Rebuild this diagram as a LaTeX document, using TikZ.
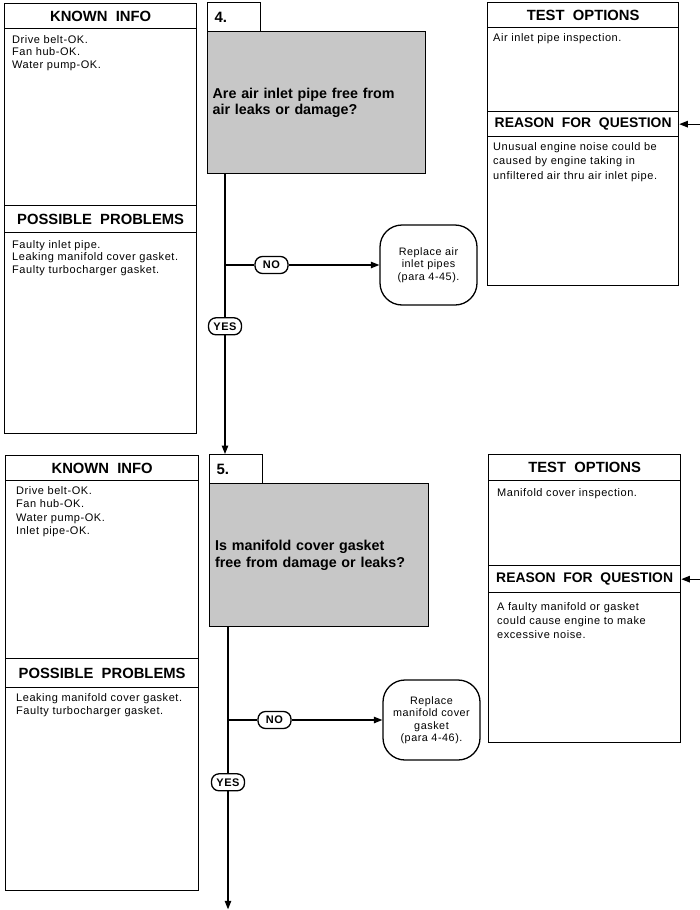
\documentclass[tikz,border=0pt]{standalone}
\usepackage{fontspec}
\setmainfont{Liberation Sans}
\newfontfamily\spacedsans{Liberation Sans}[LetterSpace=5]
\usetikzlibrary{positioning,arrows.meta,calc}

\begin{document}
\begin{tikzpicture}[
  x=1pt, y=1pt,
  panel/.style={draw, line width=1.3pt, anchor=north west, inner sep=0},
  head/.style={panel, minimum height=25pt,
               font=\fontsize{14.8}{16}\selectfont\bfseries},
  % the long heading has to keep clear of both side rules
  longhead/.style={head, font=\fontsize{13.9}{16}\selectfont\bfseries},
  body/.style={anchor=north west, align=left, inner sep=0,
               font=\spacedsans\fontsize{11}{12.5}\selectfont},
  % the small numbered tab that sits on top of each question
  tabbox/.style={panel, minimum width=53pt, minimum height=29pt,
                 inner xsep=7pt, text width=39pt, align=left,
                 font=\fontsize{15}{16}\selectfont\bfseries},
  query/.style={panel, fill=black!22, minimum width=218pt,
                minimum height=142pt, inner xsep=5pt, text width=208pt,
                align=left, font=\fontsize{14.3}{16.5}\selectfont\bfseries},
  answer/.style={draw, line width=1.3pt, fill=white, rounded corners=7.5pt,
                 minimum width=33pt, minimum height=17pt, inner sep=1pt,
                 font=\spacedsans\fontsize{11}{11}\selectfont\bfseries},
  remedy/.style={draw, line width=1.3pt, rounded corners=22pt,
                 minimum width=97pt, minimum height=80pt, inner sep=2pt,
                 align=center, font=\spacedsans\fontsize{10.8}{12.5}\selectfont},
  link/.style={line width=1.1pt},
  flow/.style={link, -{Triangle[length=8.5pt, width=6.5pt]}}
]
\useasboundingbox (0,0) rectangle (699,-910);

% ══ step 4 ═════════════════════════════════════════════════════════════════
% left column
\node[panel, minimum width=192pt, minimum height=430pt] (left4) at (4,-3) {};
\node[head, minimum width=192pt] (known4) at (4,-3) {KNOWN\ \ INFO};
\node[head, minimum width=192pt, minimum height=27pt] (prob4) at (4,-205)
  {POSSIBLE\ \ PROBLEMS};
\node[body] (knowntxt4) at (12,-35)
  {Drive belt-OK.\\Fan hub-OK.\\Water pump-OK.};
\node[body] (probtxt4) at (12,-240)
  {Faulty inlet pipe.\\Leaking manifold cover gasket.\\Faulty turbocharger gasket.};

% right column
\node[panel, minimum width=191pt, minimum height=283pt] (right4) at (487,-2) {};
\node[head, minimum width=191pt] (test4) at (487,-2) {TEST\ \ OPTIONS};
\node[longhead, minimum width=191pt] (reason4) at (487,-111)
  {REASON\ \ FOR\ \ QUESTION};
\node[body] (testtxt4) at (493,-33) {Air inlet pipe inspection.};
\node[body, font=\spacedsans\fontsize{11}{14.5}\selectfont] (reasontxt4)
  at (493,-142)
  {Unusual engine noise could be\\caused by engine taking in\\unfiltered air thru air inlet pipe.};

% centre column
\node[tabbox] (tab4) at (207,-2) {4.};
\node[query] (q4) at (207,-31) {Are air inlet pipe free from\\air leaks or damage?};
\coordinate (trunk4) at ($(q4.south west)+(18,0)$);
\node[answer] (no4) at (271.5,-265) {NO};
\node[answer] (yes4) at ($(trunk4)+(0,-152)$) {YES};
\node[remedy] (fix4) at (428.5,-265) {Replace air\\inlet pipes\\(para 4-45).};
\coordinate (cue4) at ($(reason4.east)+(21,0)$);

% ══ step 5 ═════════════════════════════════════════════════════════════════
% left column
\node[panel, minimum width=193pt, minimum height=435pt] (left5) at (5,-455) {};
\node[head, minimum width=193pt] (known5) at (5,-455) {KNOWN\ \ INFO};
\node[head, minimum width=193pt, minimum height=29pt] (prob5) at (5,-658)
  {POSSIBLE\ \ PROBLEMS};
\node[body, font=\spacedsans\fontsize{11}{13.5}\selectfont] (knowntxt5)
  at (16,-486)
  {Drive belt-OK.\\Fan hub-OK.\\Water pump-OK.\\Inlet pipe-OK.};
\node[body, font=\spacedsans\fontsize{11}{13.5}\selectfont] (probtxt5)
  at (16,-693)
  {Leaking manifold cover gasket.\\Faulty turbocharger gasket.};

% right column
\node[panel, minimum width=192pt, minimum height=288pt] (right5) at (488,-454) {};
\node[head, minimum width=192pt, minimum height=26pt] (test5) at (488,-454)
  {TEST\ \ OPTIONS};
\node[longhead, minimum width=192pt, minimum height=27pt] (reason5) at (488,-565)
  {REASON\ \ FOR\ \ QUESTION};
\node[body] (testtxt5) at (497,-488) {Manifold cover inspection.};
\node[body, font=\spacedsans\fontsize{11}{14}\selectfont] (reasontxt5)
  at (497,-602)
  {A faulty manifold or gasket\\could cause engine to make\\excessive noise.};

% centre column
\node[tabbox] (tab5) at (209,-454) {5.};
\node[query, minimum width=219pt, minimum height=143pt] (q5) at (209,-483)
  {Is manifold cover gasket\\free from damage or leaks?};
\coordinate (trunk5) at ($(q5.south west)+(19,0)$);
\node[answer] (no5) at (274.5,-720) {NO};
\node[answer] (yes5) at ($(trunk5)+(0,-155)$) {YES};
\node[remedy] (fix5) at (431.5,-720)
  {Replace\\manifold cover\\gasket\\(para 4-46).};
\coordinate (cue5) at ($(reason5.east)+(19,0)$);
\coordinate (exit5) at ($(trunk5)+(0,-282)$);

% ══ connectors ═════════════════════════════════════════════════════════════
\draw[link] (trunk4) -- (yes4);
\draw[flow] (yes4) -- (yes4 |- tab5.north);
\draw[link] (no4 -| trunk4) -- (no4);
\draw[flow] (no4) -- (fix4);
\draw[flow] (cue4) -- (reason4.east);

\draw[link] (trunk5) -- (yes5);
\draw[flow] (yes5) -- (exit5);
\draw[link] (no5 -| trunk5) -- (no5);
\draw[flow] (no5) -- (fix5);
\draw[flow] (cue5) -- (reason5.east);

\end{tikzpicture}
\end{document}
